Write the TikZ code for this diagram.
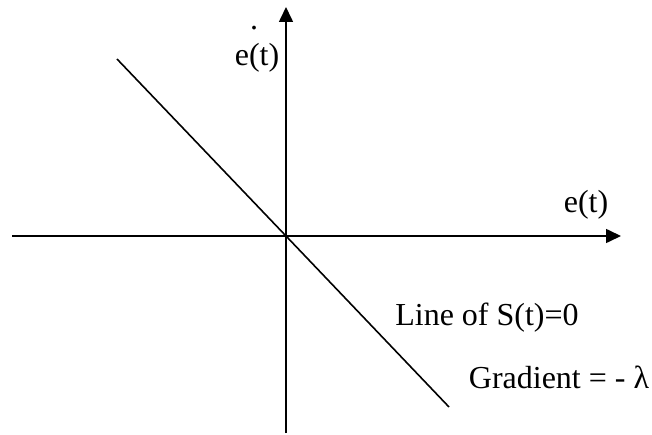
\documentclass[tikz,border=0pt]{standalone}
\usepackage{fontspec}
\setmainfont{Liberation Serif}
\usetikzlibrary{arrows.meta,positioning}
\definecolor{ink}{HTML}{000000}
\tikzset{
  axisarr/.style={-{Triangle[length=15pt,width=14pt]},line width=1.6pt,color=ink},
  slideline/.style={line width=1.6pt,color=ink},
  axlabel/.style={font=\fontsize{32}{36}\selectfont,inner sep=0pt,align=center,text=ink}
}

\begin{document}
\begin{tikzpicture}[x=1pt,y=-1pt]
      \useasboundingbox (0,0) rectangle (652,435);
      \coordinate (o) at (286,236);
      \coordinate (xl) at (12,236);
      \coordinate (xr) at (621,236);
      \coordinate (yb) at (286,433);
      \coordinate (yt) at (286,7);
      \coordinate (sa) at (117,59);
      \coordinate (sb) at (449,407);
      \draw[axisarr] (xl) -- (xr);
      \draw[axisarr] (yb) -- (yt);
      \draw[slideline] (sa) -- (o) -- (sb);

      \node[axlabel,anchor=base] (dotmark) at (254,30) {.};
      \node[axlabel,anchor=base] (edot) at (257,66) {e(t)};
      \node[axlabel] (e) at (586,205) {e(t)};
      \node[axlabel] (sline) at (487,318) {Line of S(t)=0};
      \node[axlabel] (grad) at (559,377) {Gradient = - λ};
    \end{tikzpicture}
\end{document}
